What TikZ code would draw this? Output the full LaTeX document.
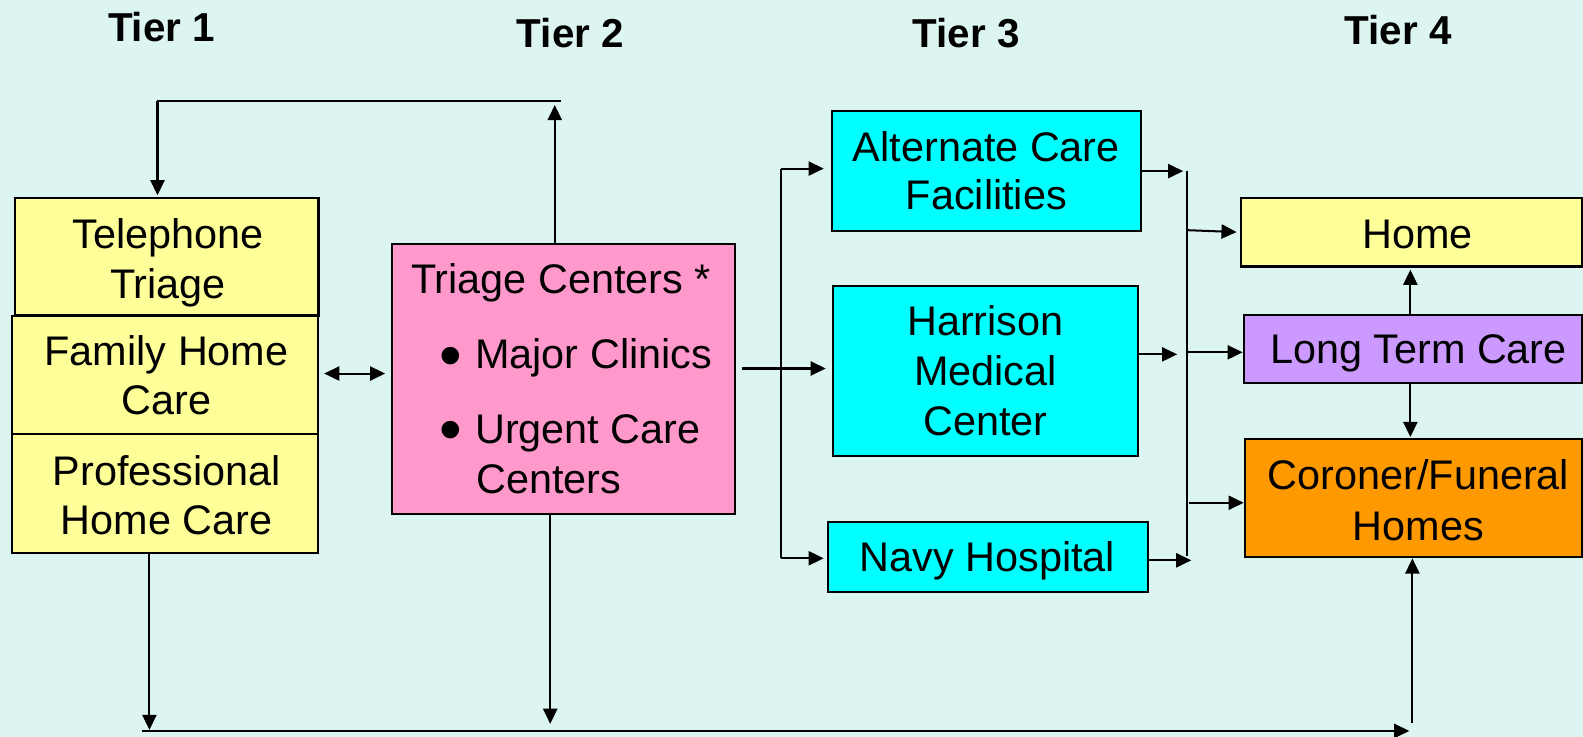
\documentclass[tikz,border=0pt]{standalone}
\usepackage{fontspec}
\setmainfont{Liberation Sans}
\usetikzlibrary{arrows.meta}
\definecolor{bgc}{RGB}{221,245,241}
\definecolor{yel}{RGB}{255,255,153}
\definecolor{pnk}{RGB}{255,153,204}
\definecolor{cyn}{RGB}{0,255,255}
\definecolor{prp}{RGB}{204,153,255}
\definecolor{org}{RGB}{255,153,0}
\begin{document}
\begin{tikzpicture}[x=1pt,y=-1pt,
  box/.style={draw=black, line width=2.2pt, inner sep=0pt},
  txt/.style={inner sep=0pt, anchor=base, font=\fontsize{41}{48}\selectfont},
  ltxt/.style={txt, anchor=base west},
  bul/.style={inner sep=0pt, anchor=base, font=\fontsize{64}{64}\selectfont},
  tier/.style={inner sep=0pt, anchor=base, font=\fontsize{40}{48}\selectfont\bfseries},
  conn/.style={line width=2pt},
  arr/.style={conn, -{Triangle[length=15pt,width=14pt]}},
  darr/.style={conn, {Triangle[length=15pt,width=14pt]}-{Triangle[length=15pt,width=14pt]}}]
\fill[bgc] (0,0) rectangle (1568,730);
\clip (0,0) rectangle (1568,730);
% titles
\node[tier] (t1) at (160,41) {Tier 1};
\node[tier] (t2) at (565,47) {Tier 2};
\node[tier] (t3) at (957,47) {Tier 3};
\node[tier] (t4) at (1385,44) {Tier 4};
% tier 1
\node[box, fill=yel, minimum width=301pt, minimum height=116pt] (tel) at (165,254.5) {};
\node[box, fill=yel, minimum width=303pt, minimum height=117pt] (fam) at (163.5,371.5) {};
\node[box, fill=yel, minimum width=303pt, minimum height=118pt] (pro) at (163.5,489) {};
\node[txt] (tel1) at (166.5,246) {Telephone};
\node[txt] (tel2) at (166.5,295.5) {Triage};
\node[txt] (fam1) at (165,362) {Family Home};
\node[txt] (fam2) at (165,411) {Care};
\node[txt] (pro1) at (165,480.5) {Professional};
\node[txt] (pro2) at (165,529.5) {Home Care};
% tier 2
\node[box, fill=pnk, minimum width=339.4pt, minimum height=267.7pt] (tc) at (558.3,375.5) {};
\node[ltxt] (tct) at (407,290.5) {Triage Centers *};
\node[bul] (bu1) at (446.5,373.5) {•};
\node[ltxt] (tcb1) at (470.5,365) {Major Clinics};
\node[bul] (bu2) at (446.5,447.5) {•};
\node[ltxt] (tcb2) at (470.5,439) {Urgent Care};
\node[ltxt] (tcb3) at (471.5,488.6) {Centers};
% tier 3
\node[box, fill=cyn, minimum width=306pt, minimum height=119pt] (acf) at (977,169.5) {};
\node[box, fill=cyn, minimum width=302pt, minimum height=169pt] (hmc) at (976,367.5) {};
\node[box, fill=cyn, minimum width=317pt, minimum height=69pt] (navy) at (978.5,551.5) {};
\node[txt] (acf1) at (977,159.5) {Alternate Care};
\node[txt] (acf2) at (977,208) {Facilities};
\node[txt] (hmc1) at (976,332) {Harrison};
\node[txt] (hmc2) at (976,382) {Medical};
\node[txt] (hmc3) at (976,431) {Center};
\node[txt] (navy1) at (978,566) {Navy Hospital};
% tier 4
\node[box, fill=yel, minimum width=338pt, minimum height=68pt] (home) at (1398,230) {};
\node[box, fill=prp, minimum width=335pt, minimum height=67pt] (ltc) at (1399.5,345.5) {};
\node[box, fill=org, minimum width=334pt, minimum height=117pt] (cor) at (1400,493.5) {};
\node[txt] (home1) at (1404,246) {Home};
\node[txt] (ltc1) at (1405,360.5) {Long Term Care};
\node[txt] (cor1) at (1405,485) {Coroner/Funeral};
\node[txt] (cor2) at (1405,535) {Homes};
% top loop
\coordinate (tl) at (156,100);
\coordinate (tr) at (556,100);
\coordinate (tup) at (549.5,104);
\draw[conn] (tl) -- (tr);
\draw[arr] (tc.north -| tup) -- (tup);
\draw[arr, shorten >=2pt] (tl) -- (tel.north -| tl);
% double arrow
\coordinate (dd) at (0,370);
\draw[darr, shorten <=5pt, shorten >=6pt] (fam.east |- dd) -- (tc.west |- dd);
% left bus
\coordinate (lb1) at (774,167);
\coordinate (lb2) at (774,553);
\coordinate (tcout) at (735,365);
\draw[conn] (lb1) -- (lb2);
\draw[arr, shorten >=7pt] (lb1) -- (acf.west |- lb1);
\draw[arr, shorten >=6pt] (tcout) -- (hmc.west |- tcout);
\draw[arr, shorten >=3pt] (lb2) -- (navy.west |- lb2);
% right bus
\coordinate (rb1) at (1176,169);
\coordinate (rb2) at (1176,551);
\coordinate (r1) at (1172,169.5);
\coordinate (r2) at (1166,351);
\coordinate (r3) at (1180,555);
\draw[conn] (rb1) -- (rb2);
\draw[arr] (acf.east |- r1) -- (r1);
\draw[arr] (hmc.east |- r2) -- (r2);
\draw[arr] (navy.east |- r3) -- (r3);
\coordinate (o1) at (1176,228);
\coordinate (o2) at (1176,349);
\coordinate (o3) at (1178,498);
\draw[arr, shorten >=3pt] (o1) -- (home.west);
\draw[arr] (o2) -- (ltc.west |- o2);
\draw[arr] (o3) -- (cor.west |- o3);
\coordinate (vx) at (1397,0);
\draw[arr, shorten >=2pt] (ltc.north -| vx) -- (home.south -| vx);
\draw[arr, shorten >=1pt] (ltc.south -| vx) -- (cor.north -| vx);
% bottom
\coordinate (bl) at (141,724);
\coordinate (br) at (1396,724);
\coordinate (pb) at (148,723);
\coordinate (tb) at (545,717);
\coordinate (cb) at (1399,716);
\draw[arr] (bl) -- (br);
\draw[arr] (pro.south -| pb) -- (pb);
\draw[arr] (tc.south -| tb) -- (tb);
\draw[arr] (cb) -- (cor.south -| cb);
\end{tikzpicture}
\end{document}
